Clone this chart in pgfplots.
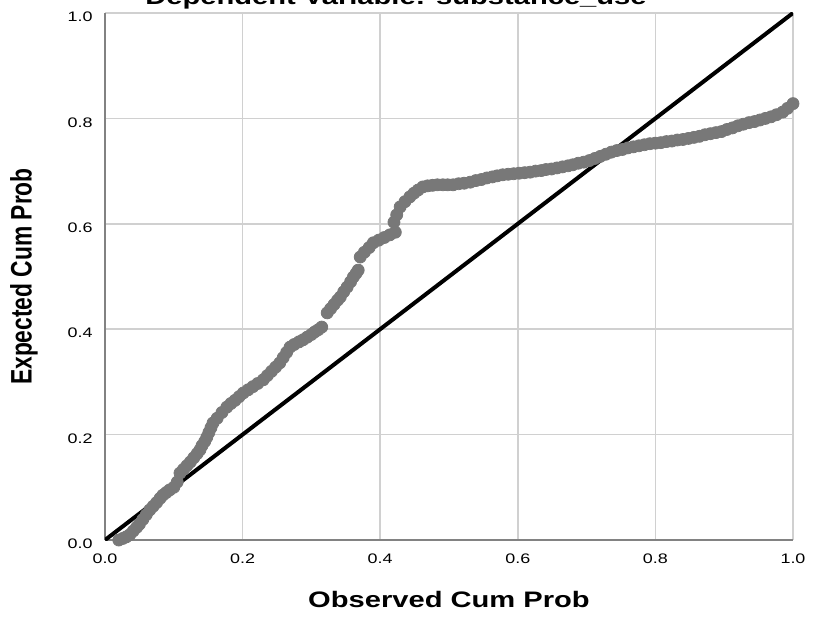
\documentclass[border=0pt]{standalone}
\usepackage{fontspec}
\setmainfont[FakeStretch=1.3]{Liberation Sans}
\newfontfamily\ylabfont{Liberation Sans}
\usepackage{graphicx}
\usepackage{pgfplots}
\pgfplotsset{compat=1.18}

\definecolor{ptgray}{RGB}{120,120,120}
\definecolor{gridgray}{RGB}{208,208,208}
\definecolor{axgray}{RGB}{130,130,130}

\begin{document}
\begin{tikzpicture}
\useasboundingbox (-52.5pt,-38pt) rectangle (354.5pt,270pt);
\begin{axis}[
  scale only axis,
  width=344pt,
  height=263.5pt,
  xmin=0, xmax=1,
  ymin=0, ymax=1,
  xtick={0,0.2,0.4,0.6,0.8,1},
  ytick={0,0.2,0.4,0.6,0.8,1},
  major tick length=0pt,
  grid=major,
  major grid style={draw=gridgray, line width=0.8pt},
  axis lines*=left,
  axis line style={draw=axgray, line width=0.8pt, -},
  /pgf/number format/assume math mode=true,
  /pgf/number format/.cd, fixed, fixed zerofill, precision=1,
  /pgfplots/.cd,
  tick label style={font=\fontsize{6.9}{8}\selectfont, text=black},
  xticklabel style={yshift=-3.5pt},
  yticklabel style={xshift=-2.7pt, yshift=-2pt},
  xlabel={\fontsize{11.2}{13}\selectfont\bfseries Observed Cum Prob},
  xlabel style={at={(axis description cs:0.5,-0.129)}, anchor=base},
  ylabel={\scalebox{1}[1.3]{\fontsize{11.4}{13}\selectfont\ylabfont\bfseries Expected Cum Prob}},
  ylabel style={at={(axis description cs:-0.1177,0.5)}, anchor=center},
  every axis title shift=0pt,
  title={\fontsize{11.2}{13}\selectfont\bfseries Dependent Variable: substance\_use},
  title style={at={(axis description cs:0.423,1.0152)}, anchor=base},
]
% observed points
\addplot[only marks, mark=*, mark size=3pt, color=ptgray] coordinates {
(0.020,0.000) (0.026,0.003) (0.031,0.006) (0.036,0.010) (0.041,0.017) (0.046,0.024)
(0.050,0.030) (0.055,0.039) (0.060,0.048) (0.065,0.057) (0.070,0.064) (0.075,0.071)
(0.080,0.079) (0.084,0.085) (0.089,0.090) (0.094,0.095) (0.100,0.100) (0.105,0.110)
(0.109,0.127) (0.114,0.134) (0.119,0.141) (0.124,0.148) (0.129,0.156) (0.134,0.164)
(0.138,0.171) (0.141,0.179) (0.145,0.187) (0.148,0.195) (0.151,0.204) (0.154,0.213)
(0.157,0.222) (0.163,0.231) (0.170,0.242) (0.177,0.252) (0.183,0.259) (0.189,0.265)
(0.195,0.272) (0.201,0.279) (0.208,0.285) (0.215,0.291) (0.222,0.297) (0.230,0.304)
(0.236,0.312) (0.242,0.320) (0.248,0.328) (0.254,0.336) (0.259,0.346) (0.264,0.356)
(0.269,0.366) (0.275,0.371) (0.282,0.376) (0.288,0.380) (0.294,0.385) (0.300,0.390)
(0.305,0.395) (0.310,0.399) (0.315,0.404) (0.323,0.431) (0.328,0.439) (0.333,0.447)
(0.338,0.455) (0.342,0.461) (0.347,0.471) (0.352,0.480) (0.357,0.490) (0.361,0.499)
(0.365,0.506) (0.368,0.512) (0.371,0.537) (0.377,0.546) (0.384,0.555) (0.390,0.564)
(0.398,0.569) (0.406,0.574) (0.414,0.579) (0.422,0.584) (0.420,0.603) (0.424,0.617)
(0.429,0.632) (0.436,0.642) (0.443,0.651) (0.449,0.658) (0.455,0.664) (0.462,0.670)
(0.469,0.672) (0.476,0.673) (0.483,0.674) (0.491,0.674) (0.498,0.674) (0.506,0.674)
(0.514,0.676) (0.522,0.677) (0.531,0.679) (0.539,0.682) (0.547,0.684) (0.555,0.687)
(0.563,0.689) (0.570,0.691) (0.578,0.693) (0.586,0.694) (0.594,0.695) (0.602,0.696)
(0.610,0.697) (0.618,0.698) (0.626,0.700) (0.634,0.701) (0.641,0.703) (0.649,0.704)
(0.657,0.706) (0.665,0.708) (0.673,0.710) (0.680,0.712) (0.688,0.715) (0.696,0.717)
(0.704,0.720) (0.712,0.724) (0.720,0.728) (0.728,0.732) (0.736,0.736) (0.744,0.739)
(0.752,0.741) (0.760,0.744) (0.768,0.746) (0.776,0.748) (0.784,0.750) (0.792,0.752)
(0.800,0.753) (0.808,0.754) (0.816,0.756) (0.824,0.757) (0.832,0.759) (0.840,0.760)
(0.848,0.762) (0.856,0.764) (0.864,0.766) (0.872,0.769) (0.880,0.771) (0.888,0.773)
(0.896,0.775) (0.904,0.779) (0.912,0.782) (0.920,0.786) (0.928,0.789) (0.936,0.792)
(0.944,0.794) (0.952,0.797) (0.960,0.800) (0.968,0.803) (0.976,0.807) (0.985,0.812)
(0.992,0.819) (1.000,0.828)
};
% reference diagonal
\addplot[black, line width=2pt] coordinates {(0,0) (1,1)};
\end{axis}
\end{tikzpicture}
\end{document}
